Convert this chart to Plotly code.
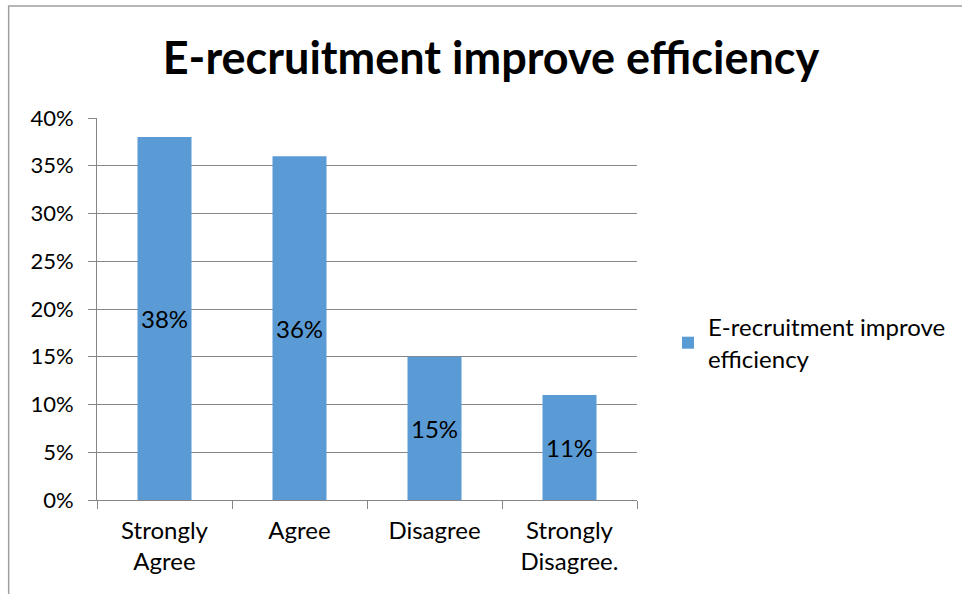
import plotly.graph_objects as go

categories = ["Strongly<br>Agree", "Agree", "Disagree", "Strongly<br>Disagree."]
values = [0.38, 0.36, 0.15, 0.11]
labels = ["38%", "36%", "15%", "11%"]
series_name = "E-recruitment improve<br>efficiency"
title_text = "E-recruitment improve efficiency"

FONT = "Lato, Open Sans, sans-serif"
FS = 22
FS2 = 24
L, R, T, B = 97, 324, 118, 94
W, H = 962, 594
pw = W - L - R
ph = H - T - B

fig = go.Figure()
fig.add_trace(go.Bar(
    x=categories, y=values, name=series_name,
    marker=dict(color="#5B9BD5", line=dict(width=0)),
    text=labels, textposition="inside", insidetextanchor="middle",
    textfont=dict(size=FS2, color="black", family=FONT),
    showlegend=True,
))

fig.update_layout(
    width=W, height=H,
    margin=dict(l=L, r=R, t=T, b=B),
    paper_bgcolor="white", plot_bgcolor="white",
    font=dict(family=FONT, size=FS, color="black"),
    title=dict(text="<b>" + title_text + "</b>", x=491 / W, xanchor="center",
               y=1 - 58 / H, yanchor="middle",
               font=dict(size=45, family=FONT, color="black")),
    bargap=0.6,
    showlegend=True,
    legend=dict(x=(668 - L) / pw, y=(500 - 343) / ph, xanchor="left", yanchor="middle",
                font=dict(size=FS2, family=FONT), itemwidth=30),
    xaxis=dict(showline=True, linecolor="#868686", linewidth=1,
               ticks="outside", ticklen=8, tickcolor="#868686", tickson="boundaries",
               showgrid=False, tickfont=dict(size=FS2), ticklabelstandoff=9),
    yaxis=dict(range=[0, 0.4], dtick=0.05, tickformat=".0%",
               showgrid=True, gridcolor="#868686", gridwidth=1,
               showline=True, linecolor="#868686", linewidth=1,
               ticks="outside", ticklen=8, tickcolor="#868686",
               zeroline=False, tickfont=dict(size=FS), ticklabelstandoff=10),
    shapes=[dict(type="rect", xref="paper", yref="paper",
                 x0=(8.5 - L) / pw, x1=(1000 - L) / pw,
                 y0=(500 - 700) / ph, y1=(500 - 6) / ph,
                 line=dict(color="#A0A0A0", width=1.5), fillcolor="rgba(0,0,0,0)",
                 layer="below")],
)

fig.write_html("out.html")
